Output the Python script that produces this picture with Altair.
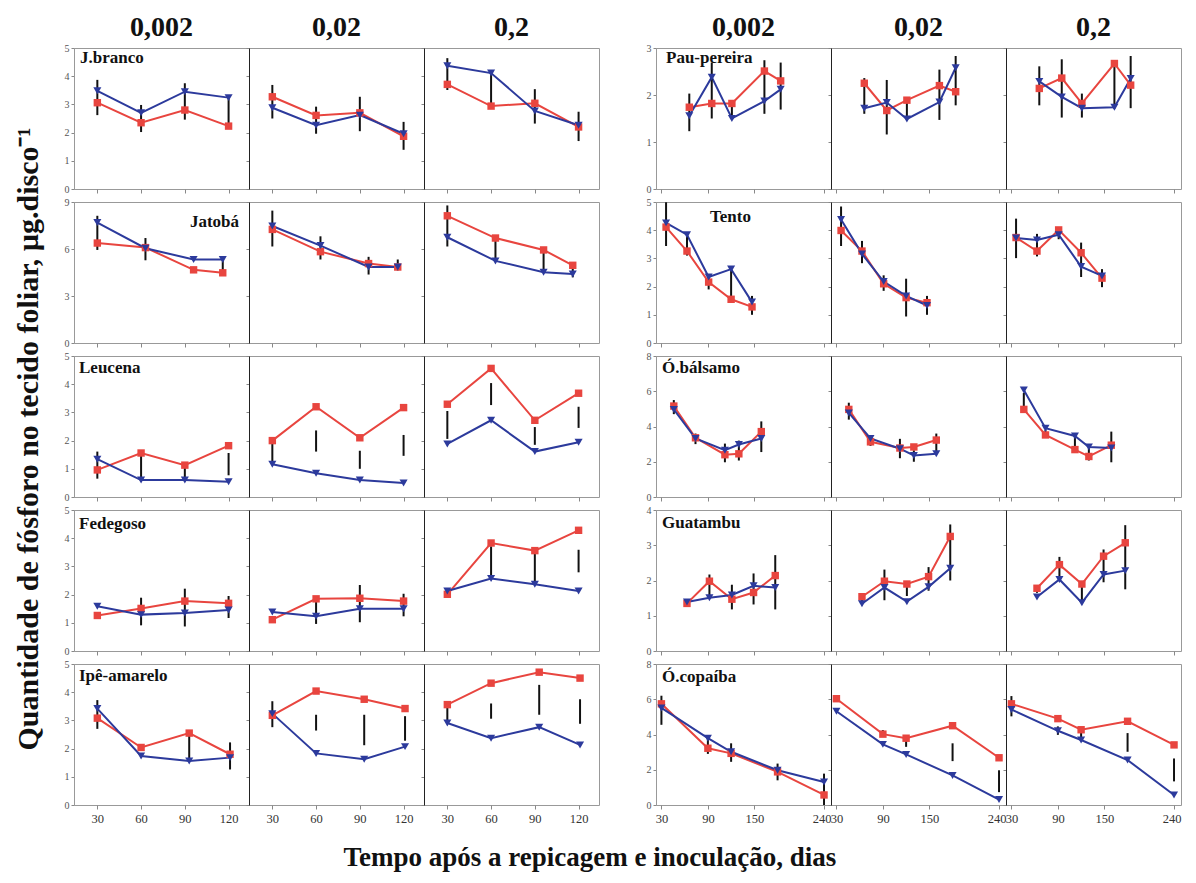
import altair as alt
import pandas as pd

RED = "#e8453f"
BLUE = "#2c3a9c"
SERIF = "Liberation Serif"
W, H = 175, 141

conc_labels = ["0,002", "0,02", "0,2"]
YTITLE = "Quantidade de fósforo no tecido foliar, µg.disco⁻¹"
XTITLE = "Tempo após a repicagem e inoculação, dias"

left_xdom = [14, 134]
left_xticks = [30, 60, 90, 120]
right_xdom = [23, 249]
right_xticks = [30, 90, 150, 240]

N = None

# ---------------- left block ----------------
jbranco_x = [30, 60, 90, 120]
jbranco_red = [[3.06, 2.35, 2.80, 2.23], [3.27, 2.61, 2.70, 1.87], [3.71, 2.94, 3.04, 2.20]]
jbranco_blue = [[3.48, 2.70, 3.45, 3.24], [2.88, 2.26, 2.62, 1.96], [4.37, 4.11, 2.77, 2.26]]
jbranco_lo = [[2.62, 2.02, 2.46, 2.23], [2.50, 1.96, 2.05, 1.39], [3.51, 2.98, 2.32, 1.70]]
jbranco_hi = [[3.87, 2.98, 3.75, 3.24], [3.69, 2.92, 3.27, 2.38], [4.64, 4.11, 3.54, 2.74]]

jatoba_x = [30, 63, 96, 116]
jatoba_red = [[6.38, 6.09, 4.67, 4.48], [7.25, 5.83, 5.07, 4.85], [8.12, 6.70, 5.94, 4.96]]
jatoba_blue = [[7.69, 6.05, 5.33, 5.33], [7.47, 6.22, 4.85, 4.85], [6.75, 5.24, 4.52, 4.41]]
jatoba_lo = [[5.94, 5.28, N, 4.48], [6.16, 5.33, 4.37, 4.63], [6.16, 5.24, 4.52, 4.19]]
jatoba_hi = [[8.12, 6.70, N, 5.33], [8.45, 6.81, 5.50, 5.33], [8.78, 6.59, 5.94, 5.07]]

leucena_x = [30, 60, 90, 120]
leucena_red = [[0.96, 1.56, 1.13, 1.82], [2.00, 3.20, 2.10, 3.17], [3.29, 4.56, 2.72, 3.68]]
leucena_blue = [[1.34, 0.60, 0.60, 0.54], [1.16, 0.84, 0.60, 0.50], [1.88, 2.72, 1.61, 1.94]]
leucena_lo = [[0.65, 0.60, 0.56, 0.77], [1.22, 1.61, 1.00, 1.46], [2.06, 3.26, 1.85, 2.45]]
leucena_hi = [[1.61, 1.56, 1.10, 1.56], [1.94, 2.36, 1.64, 2.20], [3.05, 4.04, 2.48, 3.20]]

fedegoso_x = [30, 60, 90, 120]
fedegoso_red = [[1.26, 1.51, 1.77, 1.69], [1.11, 1.85, 1.87, 1.77], [2.01, 3.83, 3.56, 4.28]]
fedegoso_blue = [[1.59, 1.29, 1.35, 1.45], [1.38, 1.23, 1.50, 1.50], [2.13, 2.57, 2.37, 2.13]]
fedegoso_lo = [[N, 0.91, 0.87, 1.17], [N, 0.96, 1.02, 1.23], [N, 2.61, 2.43, 2.79]]
fedegoso_hi = [[N, 1.89, 2.21, 1.95], [N, 1.77, 2.34, 2.03], [N, 3.71, 3.47, 3.59]]

ipe_x = [30, 60, 93, 121]
ipe_red = [[3.08, 2.04, 2.55, 1.80], [3.18, 4.04, 3.75, 3.42], [3.56, 4.32, 4.71, 4.50]]
ipe_blue = [[3.42, 1.74, 1.56, 1.68], [3.24, 1.83, 1.62, 2.07], [2.91, 2.37, 2.76, 2.13]]
ipe_lo = [[2.70, N, 1.62, 1.26], [2.76, 2.64, 2.12, 2.28], [3.00, 3.06, 3.20, 2.88]]
ipe_hi = [[3.72, N, 2.52, 2.22], [3.68, 3.20, 3.20, 3.15], [3.44, 3.60, 4.26, 3.75]]

# ---------------- right block ----------------
pau_x = [66, 95, 121, 163, 184]
pau_red = [[1.74, 1.82, 1.82, 2.51, 2.30], [2.25, 1.67, 1.89, 2.20, 2.07], [2.14, 2.36, 1.82, 2.67, 2.21]]
pau_blue = [[1.56, 2.38, 1.50, 1.87, 2.12], [1.72, 1.84, 1.49, 1.85, 2.58], [2.29, 1.96, 1.72, 1.74, 2.35]]
pau_lo = [[1.23, 1.50, 1.52, 1.60, 1.69], [1.60, 1.16, 1.49, 1.47, 1.78], [1.78, 1.52, 1.52, 1.71, 1.72]]
pau_hi = [[2.03, 2.69, 1.85, 2.74, 2.69], [2.36, 2.32, 1.89, 2.54, 2.83], [2.61, 2.76, 2.03, 2.69, 2.83]]

tento_x = [36, 63, 91, 120, 147]
tento_red = [[4.11, 3.26, 2.16, 1.55, 1.28], [3.99, 3.26, 2.10, 1.61, 1.43], [3.74, 3.26, 4.01, 3.20, 2.30]]
tento_blue = [[4.26, 3.84, 2.34, 2.62, 1.45], [4.38, 3.16, 2.18, 1.67, 1.33], [3.72, 3.65, 3.84, 2.71, 2.38]]
tento_lo = [[3.44, 3.10, 1.90, 1.43, 1.00], [3.44, 2.83, 1.85, 0.94, 1.00], [3.01, 3.07, 3.68, 2.34, 1.98]]
tento_hi = [[4.99, 3.90, 2.40, 2.59, 1.67], [4.84, 3.62, 2.40, 2.28, 1.67], [4.41, 3.87, 4.10, 3.56, 2.62]]

balsamo_x = [46, 74, 112, 130, 159]
balsamo_red = [[5.16, 3.36, 2.40, 2.45, 3.71], [4.97, 3.13, 2.78, 2.84, 3.23], [4.97, 3.52, 2.69, 2.30, 2.94]]
balsamo_blue = [[4.97, 3.32, 2.65, 2.98, 3.32], [4.77, 3.32, 2.74, 2.36, 2.45], [6.07, 3.90, 3.46, 2.84, 2.78]]
balsamo_lo = [[4.70, 3.00, 1.97, 2.07, 2.55], [4.39, 2.90, 2.20, 2.00, 2.55], [5.00, 3.40, 2.55, 2.07, 1.97]]
balsamo_hi = [[5.50, 3.60, 3.03, 3.20, 4.29], [5.35, 3.50, 3.30, 2.65, 3.60], [5.90, 3.80, 3.50, 2.94, 3.71]]

guatambu_x = [63, 92, 121, 149, 177]
guatambu_red = [[1.35, 1.98, 1.47, 1.66, 2.14], [1.54, 1.98, 1.90, 2.11, 3.25], [1.78, 2.45, 1.90, 2.69, 3.07]]
guatambu_blue = [[1.39, 1.51, 1.59, 1.85, 1.80], [1.34, 1.80, 1.40, 1.82, 2.35], [1.53, 2.03, 1.37, 2.17, 2.28]]
guatambu_lo = [[1.27, 1.51, 1.18, 1.32, 1.18], [1.30, 1.44, 1.56, 1.71, 2.00], [1.65, 2.01, 1.42, 1.95, 1.75]]
guatambu_hi = [[1.46, 2.17, 1.88, 2.20, 2.72], [1.55, 2.31, 1.90, 2.38, 3.59], [1.85, 2.67, 1.85, 2.88, 3.57]]

copaiba_x = [30, 90, 120, 180, 240]
copaiba_red = [[5.74, 3.22, 2.93, 1.88, 0.57], [6.03, 4.02, 3.79, 4.50, 2.68], [5.74, 4.90, 4.27, 4.75, 3.41]]
copaiba_blue = [[5.51, 3.79, 3.02, 1.97, 1.30], [5.32, 3.44, 2.87, 1.68, 0.31], [5.42, 4.21, 3.69, 2.55, 0.57]]
copaiba_lo = [[4.55, 2.90, 2.45, 1.40, 0.00], [N, 3.90, 3.30, 2.49, 0.73], [5.03, 3.98, 3.70, 3.02, 1.34]]
copaiba_hi = [[6.20, 3.90, 3.50, 2.35, 1.78], [N, 4.25, 3.80, 3.50, 1.97], [6.18, 4.46, 4.20, 4.08, 2.64]]

left_rows = [
    ("J.branco", jbranco_x, jbranco_red, jbranco_blue, jbranco_lo, jbranco_hi, [0, 5], [0, 1, 2, 3, 4, 5], ("left", 6, 2)),
    ("Jatobá", jatoba_x, jatoba_red, jatoba_blue, jatoba_lo, jatoba_hi, [0, 9], [0, 3, 6, 9], ("right", W - 10, 12)),
    ("Leucena", leucena_x, leucena_red, leucena_blue, leucena_lo, leucena_hi, [0, 5], [0, 1, 2, 3, 4, 5], ("left", 5, 4)),
    ("Fedegoso", fedegoso_x, fedegoso_red, fedegoso_blue, fedegoso_lo, fedegoso_hi, [0, 5], [0, 1, 2, 3, 4, 5], ("left", 5, 6)),
    ("Ipê-amarelo", ipe_x, ipe_red, ipe_blue, ipe_lo, ipe_hi, [0, 5], [0, 1, 2, 3, 4, 5], ("left", 5, 4)),
]
right_rows = [
    ("Pau-pereira", pau_x, pau_red, pau_blue, pau_lo, pau_hi, [0, 3], [0, 1, 2, 3], ("left", 10, 2)),
    ("Tento", tento_x, tento_red, tento_blue, tento_lo, tento_hi, [0, 5], [0, 1, 2, 3, 4, 5], ("left", 54, 7)),
    ("Ó.bálsamo", balsamo_x, balsamo_red, balsamo_blue, balsamo_lo, balsamo_hi, [0, 8], [0, 2, 4, 6, 8], ("left", 6, 4)),
    ("Guatambu", guatambu_x, guatambu_red, guatambu_blue, guatambu_lo, guatambu_hi, [0, 4], [0, 1, 2, 3, 4], ("left", 6, 5)),
    ("Ó.copaíba", copaiba_x, copaiba_red, copaiba_blue, copaiba_lo, copaiba_hi, [0, 8], [0, 2, 4, 6, 8], ("left", 6, 5)),
]


def panel(row, c, xdom, xticks, bottom, top, right_block):
    name, xs, red, blue, lo, hi, ydom, yvals, lab = row
    df = pd.DataFrame({"x": xs, "red": red[c], "blue": blue[c], "lo": lo[c], "hi": hi[c]})
    first = c == 0
    xkw = dict(values=xticks, labels=bottom, labelFont=SERIF, labelFontSize=12.5,
               labelColor="#333", tickSize=4, tickColor="#888", domain=False,
               grid=False, title=None, labelPadding=3)
    if right_block:
        xkw["labelAlign"] = alt.expr("datum.value == 240 ? 'right' : 'center'")
        xkw["labelOffset"] = alt.expr("datum.value == 240 ? 7 : 0")
    xax = alt.Axis(**xkw)
    yax = alt.Axis(values=yvals, labels=first, labelFont=SERIF, labelFontSize=10,
                   labelColor="#555", tickSize=3, tickColor="#888", domain=True,
                   domainColor="#999" if first else "#222", grid=False, title=None,
                   labelPadding=2)
    X = alt.X("x:Q", scale=alt.Scale(domain=xdom, nice=False, zero=False), axis=xax)

    def Y(f):
        return alt.Y(f, type="quantitative", scale=alt.Scale(domain=ydom, nice=False), axis=yax)

    base = alt.Chart(df)
    rl = base.mark_line(color=RED, strokeWidth=2).encode(x=X, y=Y("red"))
    bl = base.mark_line(color=BLUE, strokeWidth=2).encode(x=X, y=Y("blue"))
    err = base.mark_rule(color="#111", strokeWidth=2).encode(x=X, y=Y("lo"), y2="hi")
    rp = base.mark_point(shape="square", filled=True, color=RED, size=55, opacity=1).encode(x=X, y=Y("red"))
    bp = base.mark_point(shape="triangle-down", filled=True, color=BLUE, size=65, opacity=1).encode(x=X, y=Y("blue"))
    layers = [rl, bl, err, rp, bp]
    if first:
        al, lx, ly = lab
        txt = alt.Chart(pd.DataFrame({"t": [name]})).mark_text(
            font=SERIF, fontWeight="bold", fontSize=17, align=al, baseline="top", color="#111"
        ).encode(text="t:N", x=alt.value(lx), y=alt.value(ly))
        layers.append(txt)
    if top:
        hdr = alt.Chart(pd.DataFrame({"t": [conc_labels[c]]})).mark_text(
            font=SERIF, fontWeight="bold", fontSize=28, align="center", baseline="middle", color="#111"
        ).encode(text="t:N", x=alt.value(W / 2), y=alt.value(-20))
        layers.append(hdr)
    return alt.layer(*layers).properties(width=W, height=H)


rows = []
for r in range(5):
    bottom = r == 4
    top = r == 0
    lb = alt.hconcat(*[panel(left_rows[r], c, left_xdom, left_xticks, bottom, top, False) for c in range(3)],
                     spacing=0, bounds="flush")
    rb = alt.hconcat(*[panel(right_rows[r], c, right_xdom, right_xticks, bottom, top, True) for c in range(3)],
                     spacing=0, bounds="flush")
    rows.append(alt.hconcat(lb, rb, spacing=45))

grid = alt.vconcat(*rows, spacing=1)

ytitle = alt.Chart(pd.DataFrame({"t": [YTITLE]})).mark_text(
    angle=270, font=SERIF, fontSize=30, fontWeight="bold", color="#111"
).encode(text="t:N", x=alt.value(15), y=alt.value(391)).properties(
    width=30, height=760, view=alt.ViewBackground(strokeOpacity=0))

chart = alt.hconcat(ytitle, grid, spacing=18).properties(
    title=alt.TitleParams(XTITLE, orient="bottom", anchor="middle", font=SERIF, fontSize=27,
                          fontWeight="bold", offset=20, dx=-8, color="#111"),
    background="white",
).configure_view(stroke="#999", strokeWidth=1)

chart.save("out.html", embed_options={"renderer": "svg", "actions": False})
